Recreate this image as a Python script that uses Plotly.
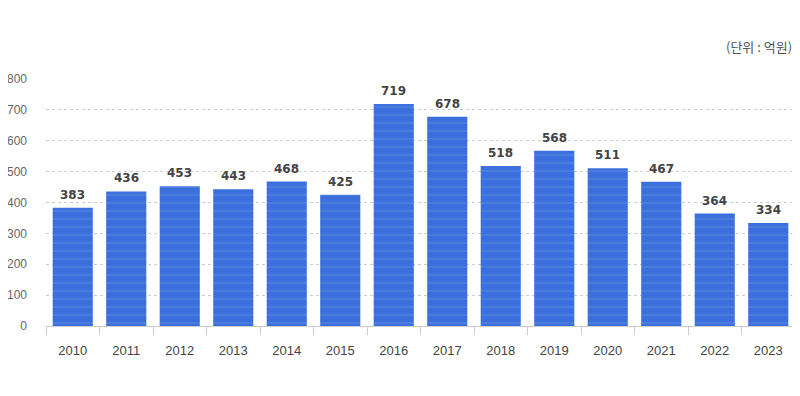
import plotly.graph_objects as go

years = ["2010", "2011", "2012", "2013", "2014", "2015", "2016", "2017", "2018", "2019", "2020", "2021", "2022", "2023"]
values = [383, 436, 453, 443, 468, 425, 719, 678, 518, 568, 511, 467, 364, 334]
y_ticks = [0, 100, 200, 300, 400, 500, 600, 700, 800]
unit_label = "(단위 : 억원)"

FONT = "Liberation Sans, Noto Sans CJK KR, sans-serif"

fig = go.Figure()
fig.add_trace(go.Bar(
    x=years, y=values,
    marker=dict(
        color="#3a6fdc",
        line=dict(width=0),
        pattern=dict(shape="-", fgcolor="#6f98ea", bgcolor="#3a6fdc", size=8, solidity=0.15),
    ),
    hoverinfo="x+y",
))

for i, v in enumerate(values):
    fig.add_annotation(x=i, y=v, text=f"<b>{v}</b>", showarrow=False,
                       yanchor="bottom", yshift=4,
                       font=dict(family="DejaVu Sans, " + FONT, size=12, color="#444444"))

fig.add_annotation(xref="paper", yref="paper", x=1.0, y=1.0, yshift=33, xshift=-2, borderpad=0,
                   xanchor="right", yanchor="middle", showarrow=False,
                   text=unit_label, font=dict(family="Noto Sans CJK KR, sans-serif", size=13, color="#555555"))

# page has an 8px body margin; figure is sized to land the plot area where the reference has it
fig.update_layout(
    width=787, height=380,
    margin=dict(l=38, r=0, t=71, b=62),
    paper_bgcolor="white", plot_bgcolor="white",
    bargap=0.25,
    showlegend=False,
    font=dict(family=FONT),
)
fig.update_xaxes(
    type="category", range=[-0.5, len(years) - 0.5],
    showline=True, linecolor="#cccccc", linewidth=1,
    ticks="outside", tickson="boundaries", ticklen=8, tickcolor="#cccccc",
    tickfont=dict(size=13, color="#444444"),
    ticklabelstandoff=12,
    showgrid=False,
)
fig.update_yaxes(
    range=[0, 800], tickvals=y_ticks,
    showgrid=True, gridcolor="#cccccc", griddash="3px,3px", gridwidth=1,
    zeroline=False, showline=False,
    tickfont=dict(size=12, color="#666666"),
    ticklabelstandoff=18,
)

fig.write_html("out.html")
